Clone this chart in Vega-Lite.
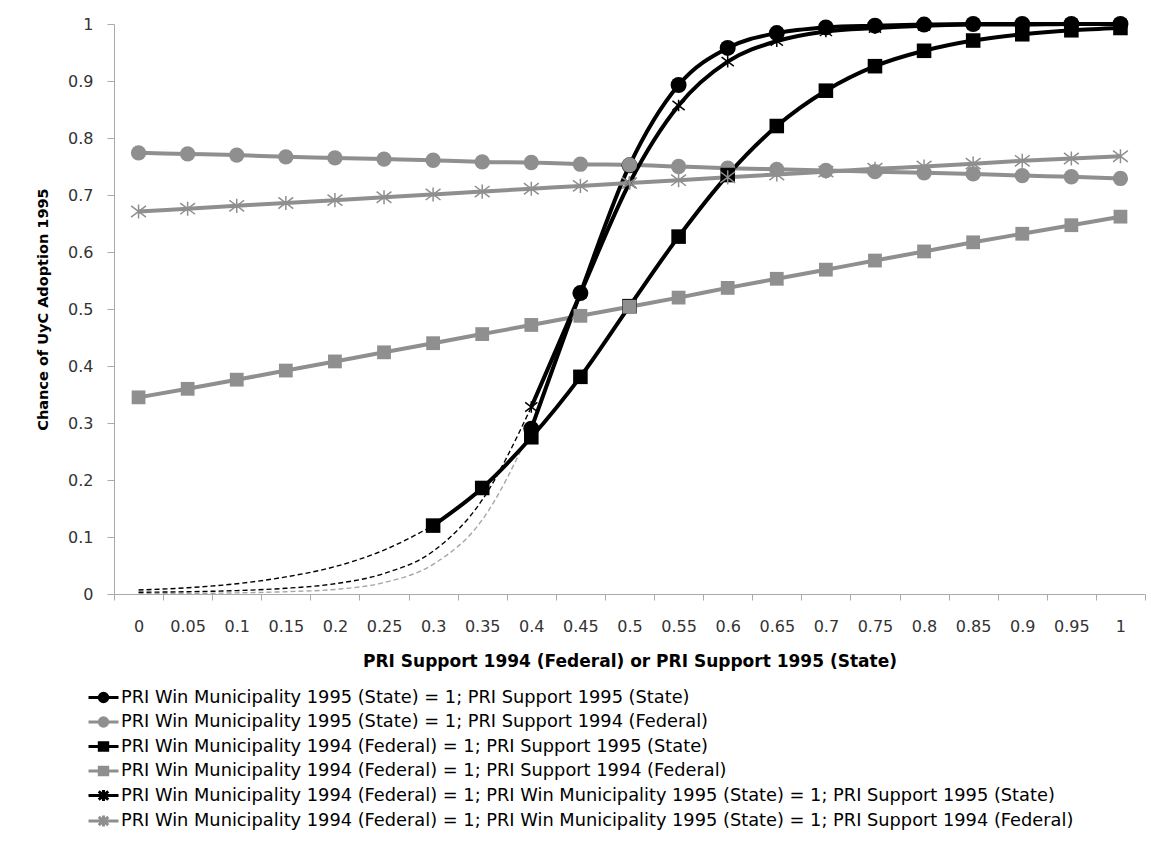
{
  "$schema": "https://vega.github.io/schema/vega-lite/v6.json",
  "width": 1031,
  "height": 570,
  "autosize": {"type": "none"},
  "padding": {"left": 114, "top": 24, "right": 6, "bottom": 269},
  "background": "white",
  "config": {"view": {"stroke": null}, "font": "DejaVu Sans"},
  "data": {"values": [
    {"s":"A","p":"ext","x":"0","y":0.001},{"s":"A","p":"ext","x":"0.05","y":0.001},{"s":"A","p":"ext","x":"0.1","y":0.002},{"s":"A","p":"ext","x":"0.15","y":0.004},{"s":"A","p":"ext","x":"0.2","y":0.008},{"s":"A","p":"ext","x":"0.25","y":0.02},{"s":"A","p":"ext","x":"0.3","y":0.052},{"s":"A","p":"ext","x":"0.35","y":0.13},{"s":"A","p":"ext","x":"0.4","y":0.29},
    {"s":"B","p":"ext","x":"0","y":0.007},{"s":"B","p":"ext","x":"0.05","y":0.011},{"s":"B","p":"ext","x":"0.1","y":0.018},{"s":"B","p":"ext","x":"0.15","y":0.03},{"s":"B","p":"ext","x":"0.2","y":0.048},{"s":"B","p":"ext","x":"0.25","y":0.077},{"s":"B","p":"ext","x":"0.3","y":0.12},
    {"s":"C","p":"ext","x":"0","y":0.003},{"s":"C","p":"ext","x":"0.05","y":0.004},{"s":"C","p":"ext","x":"0.1","y":0.006},{"s":"C","p":"ext","x":"0.15","y":0.01},{"s":"C","p":"ext","x":"0.2","y":0.018},{"s":"C","p":"ext","x":"0.25","y":0.036},{"s":"C","p":"ext","x":"0.3","y":0.075},{"s":"C","p":"ext","x":"0.35","y":0.165},{"s":"C","p":"ext","x":"0.4","y":0.328},
    {"s":"A","p":"fit","x":"0.4","y":0.29},{"s":"A","p":"fit","x":"0.45","y":0.528},{"s":"A","p":"fit","x":"0.5","y":0.752},{"s":"A","p":"fit","x":"0.55","y":0.893},{"s":"A","p":"fit","x":"0.6","y":0.958},{"s":"A","p":"fit","x":"0.65","y":0.984},{"s":"A","p":"fit","x":"0.7","y":0.994},{"s":"A","p":"fit","x":"0.75","y":0.997},{"s":"A","p":"fit","x":"0.8","y":0.999},{"s":"A","p":"fit","x":"0.85","y":1},{"s":"A","p":"fit","x":"0.9","y":1},{"s":"A","p":"fit","x":"0.95","y":1},{"s":"A","p":"fit","x":"1","y":1},
    {"s":"D","p":"fit","x":"0","y":0.774},{"s":"D","p":"fit","x":"0.05","y":0.772},{"s":"D","p":"fit","x":"0.1","y":0.77},{"s":"D","p":"fit","x":"0.15","y":0.767},{"s":"D","p":"fit","x":"0.2","y":0.765},{"s":"D","p":"fit","x":"0.25","y":0.763},{"s":"D","p":"fit","x":"0.3","y":0.761},{"s":"D","p":"fit","x":"0.35","y":0.758},{"s":"D","p":"fit","x":"0.4","y":0.757},{"s":"D","p":"fit","x":"0.45","y":0.754},{"s":"D","p":"fit","x":"0.5","y":0.753},{"s":"D","p":"fit","x":"0.55","y":0.75},{"s":"D","p":"fit","x":"0.6","y":0.747},{"s":"D","p":"fit","x":"0.65","y":0.745},{"s":"D","p":"fit","x":"0.7","y":0.743},{"s":"D","p":"fit","x":"0.75","y":0.741},{"s":"D","p":"fit","x":"0.8","y":0.739},{"s":"D","p":"fit","x":"0.85","y":0.737},{"s":"D","p":"fit","x":"0.9","y":0.734},{"s":"D","p":"fit","x":"0.95","y":0.732},{"s":"D","p":"fit","x":"1","y":0.729},
    {"s":"B","p":"fit","x":"0.3","y":0.12},{"s":"B","p":"fit","x":"0.35","y":0.186},{"s":"B","p":"fit","x":"0.4","y":0.275},{"s":"B","p":"fit","x":"0.45","y":0.381},{"s":"B","p":"fit","x":"0.5","y":0.505},{"s":"B","p":"fit","x":"0.55","y":0.627},{"s":"B","p":"fit","x":"0.6","y":0.735},{"s":"B","p":"fit","x":"0.65","y":0.821},{"s":"B","p":"fit","x":"0.7","y":0.883},{"s":"B","p":"fit","x":"0.75","y":0.926},{"s":"B","p":"fit","x":"0.8","y":0.953},{"s":"B","p":"fit","x":"0.85","y":0.971},{"s":"B","p":"fit","x":"0.9","y":0.982},{"s":"B","p":"fit","x":"0.95","y":0.989},{"s":"B","p":"fit","x":"1","y":0.993},
    {"s":"E","p":"fit","x":"0","y":0.345},{"s":"E","p":"fit","x":"0.05","y":0.36},{"s":"E","p":"fit","x":"0.1","y":0.376},{"s":"E","p":"fit","x":"0.15","y":0.392},{"s":"E","p":"fit","x":"0.2","y":0.408},{"s":"E","p":"fit","x":"0.25","y":0.424},{"s":"E","p":"fit","x":"0.3","y":0.44},{"s":"E","p":"fit","x":"0.35","y":0.456},{"s":"E","p":"fit","x":"0.4","y":0.472},{"s":"E","p":"fit","x":"0.45","y":0.488},{"s":"E","p":"fit","x":"0.5","y":0.504},{"s":"E","p":"fit","x":"0.55","y":0.52},{"s":"E","p":"fit","x":"0.6","y":0.537},{"s":"E","p":"fit","x":"0.65","y":0.553},{"s":"E","p":"fit","x":"0.7","y":0.569},{"s":"E","p":"fit","x":"0.75","y":0.585},{"s":"E","p":"fit","x":"0.8","y":0.601},{"s":"E","p":"fit","x":"0.85","y":0.617},{"s":"E","p":"fit","x":"0.9","y":0.632},{"s":"E","p":"fit","x":"0.95","y":0.647},{"s":"E","p":"fit","x":"1","y":0.662},
    {"s":"C","p":"fit","x":"0.4","y":0.328},{"s":"C","p":"fit","x":"0.45","y":0.527},{"s":"C","p":"fit","x":"0.5","y":0.721},{"s":"C","p":"fit","x":"0.55","y":0.857},{"s":"C","p":"fit","x":"0.6","y":0.934},{"s":"C","p":"fit","x":"0.65","y":0.97},{"s":"C","p":"fit","x":"0.7","y":0.987},{"s":"C","p":"fit","x":"0.75","y":0.993},{"s":"C","p":"fit","x":"0.8","y":0.997},{"s":"C","p":"fit","x":"0.85","y":0.999},{"s":"C","p":"fit","x":"0.9","y":0.999},{"s":"C","p":"fit","x":"0.95","y":1},{"s":"C","p":"fit","x":"1","y":1},
    {"s":"F","p":"fit","x":"0","y":0.671},{"s":"F","p":"fit","x":"0.05","y":0.676},{"s":"F","p":"fit","x":"0.1","y":0.681},{"s":"F","p":"fit","x":"0.15","y":0.686},{"s":"F","p":"fit","x":"0.2","y":0.691},{"s":"F","p":"fit","x":"0.25","y":0.696},{"s":"F","p":"fit","x":"0.3","y":0.701},{"s":"F","p":"fit","x":"0.35","y":0.706},{"s":"F","p":"fit","x":"0.4","y":0.711},{"s":"F","p":"fit","x":"0.45","y":0.716},{"s":"F","p":"fit","x":"0.5","y":0.721},{"s":"F","p":"fit","x":"0.55","y":0.726},{"s":"F","p":"fit","x":"0.6","y":0.731},{"s":"F","p":"fit","x":"0.65","y":0.736},{"s":"F","p":"fit","x":"0.7","y":0.741},{"s":"F","p":"fit","x":"0.75","y":0.746},{"s":"F","p":"fit","x":"0.8","y":0.75},{"s":"F","p":"fit","x":"0.85","y":0.755},{"s":"F","p":"fit","x":"0.9","y":0.76},{"s":"F","p":"fit","x":"0.95","y":0.764},{"s":"F","p":"fit","x":"1","y":0.768}
  ]},
  "encoding": {
    "x": {
      "field": "x", "type": "ordinal",
      "scale": {"type": "band", "domain": ["0","0.05","0.1","0.15","0.2","0.25","0.3","0.35","0.4","0.45","0.5","0.55","0.6","0.65","0.7","0.75","0.8","0.85","0.9","0.95","1"], "paddingInner": 0, "paddingOuter": 0},
      "title": "PRI Support 1994 (Federal) or PRI Support 1995 (State)",
      "axis": {"tickBand": "extent", "labelAngle": 0, "tickSize": 6, "labelPadding": 18, "labelFontSize": 16, "labelColor": "#333333", "titleFontSize": 17, "titleFontWeight": "bold", "titleColor": "#000000", "titlePadding": 19, "domainColor": "#aaaaaa", "tickColor": "#aaaaaa", "grid": false}
    },
    "y": {
      "field": "y", "type": "quantitative",
      "scale": {"domain": [0, 1]},
      "title": "Chance of UyC Adoption 1995",
      "axis": {"values": [0,0.1,0.2,0.3,0.4,0.5,0.6,0.7,0.8,0.9,1], "format": "~g", "grid": false, "tickSize": 7, "labelPadding": 14, "labelFontSize": 16, "labelColor": "#333333", "titleFontSize": 14.5, "titleFontWeight": "bold", "titleColor": "#000000", "titlePadding": 17, "domainColor": "#aaaaaa", "tickColor": "#aaaaaa"}
    }
  },
  "layer": [
    {
      "transform": [{"filter": "datum.p == 'ext'"}],
      "mark": {"type": "line", "interpolate": "monotone", "strokeDash": [5, 3], "strokeWidth": 1.4},
      "encoding": {"color": {"field": "s", "type": "nominal", "scale": {"domain": ["A","B","C"], "range": ["#a6a6a6","#000000","#000000"]}, "legend": null}}
    },
    {
      "transform": [{"filter": "datum.p == 'fit'"}],
      "mark": {"type": "line", "interpolate": "monotone", "strokeWidth": 4},
      "encoding": {"color": {"field": "s", "type": "nominal", "scale": {"domain": ["A","D","B","E","C","F"], "range": ["#000000","#8f8f8f","#000000","#8f8f8f","#000000","#8f8f8f"]}, "legend": null}}
    },
    {
      "transform": [{"filter": "datum.p == 'fit' && datum.s != 'C' && datum.s != 'F'"}],
      "mark": {"type": "point", "filled": true, "opacity": 1},
      "encoding": {
        "color": {"field": "s", "type": "nominal", "scale": {"domain": ["A","D","B","E"], "range": ["#000000","#8f8f8f","#000000","#8f8f8f"]}, "legend": null},
        "shape": {"field": "s", "type": "nominal", "scale": {"domain": ["A","D","B","E"], "range": ["circle","circle","square","square"]}, "legend": null},
        "size": {"field": "s", "type": "ordinal", "scale": {"domain": ["A","D","B","E"], "range": [256, 190, 270, 190]}, "legend": null}
      }
    },
    {
      "transform": [{"filter": "datum.p == 'fit' && (datum.s == 'C' || datum.s == 'F')"}],
      "mark": {"type": "point", "filled": false, "opacity": 1, "strokeWidth": 1.5, "shape": "M-1,-0.75L1,0.75M-1,0.75L1,-0.75M0,-0.95V0.95"},
      "encoding": {
        "color": {"field": "s", "type": "nominal", "scale": {"domain": ["C","F"], "range": ["#000000","#8f8f8f"]}, "legend": null},
        "size": {"field": "s", "type": "ordinal", "scale": {"domain": ["C","F"], "range": [150, 220]}, "legend": null}
      }
    },
    {
      "data": {"values": []},
      "mark": {"type": "point", "filled": true, "opacity": 1, "strokeWidth": 3},
      "encoding": {
        "color": {"field": "s", "type": "nominal", "scale": {"domain": ["A","D","B","E","C","F"], "range": ["#000000","#8f8f8f","#000000","#8f8f8f","#000000","#8f8f8f"]},
          "legend": {"orient": "none", "legendX": -22, "legendY": 662, "title": null, "labelFontSize": 17.8, "labelColor": "#000000", "labelLimit": 1100, "symbolSize": 400, "symbolStrokeWidth": 3, "rowPadding": 2.5, "labelOffset": 6,
            "labelExpr": "datum.label == 'A' ? 'PRI Win Municipality 1995 (State) = 1; PRI Support 1995 (State)' : datum.label == 'D' ? 'PRI Win Municipality 1995 (State) = 1; PRI Support 1994 (Federal)' : datum.label == 'B' ? 'PRI Win Municipality 1994 (Federal) = 1; PRI Support 1995 (State)' : datum.label == 'E' ? 'PRI Win Municipality 1994 (Federal) = 1; PRI Support 1994 (Federal)' : datum.label == 'C' ? 'PRI Win Municipality 1994 (Federal) = 1; PRI Win Municipality 1995 (State) = 1; PRI Support 1995 (State)' : 'PRI Win Municipality 1994 (Federal) = 1; PRI Win Municipality 1995 (State) = 1; PRI Support 1994 (Federal)'"}},
        "stroke": {"field": "s", "type": "nominal", "scale": {"domain": ["A","D","B","E","C","F"], "range": ["#000000","#8f8f8f","#000000","#8f8f8f","#000000","#8f8f8f"]}},
        "shape": {"field": "s", "type": "nominal", "scale": {"domain": ["A","D","B","E","C","F"], "range": [
          "M-1.5,0H1.5M0.42,0A0.42,0.42 0 1,1 -0.42,0A0.42,0.42 0 1,1 0.42,0Z",
          "M-1.5,0H1.5M0.42,0A0.42,0.42 0 1,1 -0.42,0A0.42,0.42 0 1,1 0.42,0Z",
          "M-1.5,0H1.5M-0.42,-0.37H0.42V0.37H-0.42Z",
          "M-1.5,0H1.5M-0.42,-0.37H0.42V0.37H-0.42Z",
          "M-1.5,0H1.5M-0.48,-0.42L0.48,0.42M-0.48,0.42L0.48,-0.42M0,-0.54V0.54",
          "M-1.5,0H1.5M-0.48,-0.42L0.48,0.42M-0.48,0.42L0.48,-0.42M0,-0.54V0.54"]}}
      }
    }
  ],
  "resolve": {"scale": {"color": "independent", "shape": "independent", "size": "independent", "stroke": "independent"}}
}
